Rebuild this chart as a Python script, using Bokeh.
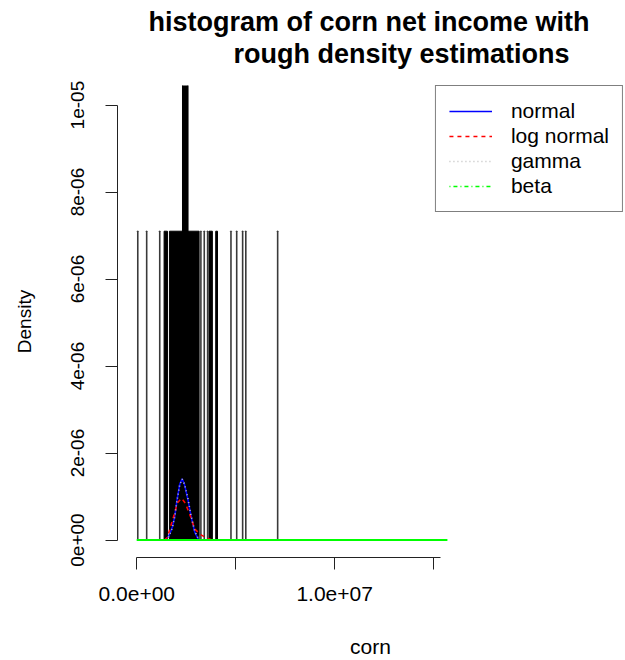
from bokeh.plotting import figure
from bokeh.models import (ColumnDataSource, FixedTicker, Legend, LegendItem, Title, Range1d)
from bokeh.embed import file_html
from bokeh.resources import INLINE

# ---------------- data ----------------
title_lines = ["histogram of corn net income with", "rough density estimations"]
x_label = "corn"
y_label = "Density"

x_ticks = [0.0, 5e6, 1e7, 1.5e7]
x_tick_labels = ["0.0e+00", "", "1.0e+07", ""]
y_ticks = [0.0, 2e-06, 4e-06, 6e-06, 8e-06, 1e-05]
y_tick_labels = ["0e+00", "2e-06", "4e-06", "6e-06", "8e-06", "1e-05"]

# isolated narrow histogram bins (left / right edge, density)
spike_left = [0.04e6, 0.49e6, 1.15e6, 3.23e6, 3.40e6, 3.57e6, 4.75e6, 5.04e6, 5.34e6, 5.50e6, 7.11e6]
spike_right = [0.06e6, 0.51e6, 1.17e6, 3.25e6, 3.42e6, 3.59e6, 4.77e6, 5.06e6, 5.36e6, 5.52e6, 7.13e6]
spike_density = [7.1e-06] * 11

# dense clusters of bins (appear solid black)
block_left = [1.38e6, 1.65e6, 3.65e6, 3.99e6, 2.31e6]
block_right = [1.55e6, 3.15e6, 3.82e6, 4.08e6, 2.59e6]
block_density = [7.1e-06, 7.1e-06, 7.1e-06, 7.1e-06, 1.07e-05]

# density estimations
normal_x = [1.45e6, 1.62e6, 1.80e6, 1.92e6, 2.04e6, 2.17e6, 2.29e6, 2.41e6, 2.58e6, 2.74e6, 2.93e6, 3.13e6]
normal_y = [0.0, 0.09e-6, 0.30e-6, 0.55e-6, 0.94e-6, 1.28e-6, 1.41e-6, 1.28e-6, 0.94e-6, 0.55e-6, 0.18e-6, 0.0]

lognormal_x = [1.40e6, 1.55e6, 1.67e6, 1.87e6, 2.05e6, 2.26e6, 2.45e6, 2.71e6, 2.93e6, 3.21e6, 3.50e6, 3.80e6]
lognormal_y = [0.0, 0.06e-6, 0.25e-6, 0.55e-6, 0.85e-6, 0.96e-6, 0.85e-6, 0.55e-6, 0.25e-6, 0.13e-6, 0.05e-6, 0.0]

gamma_x = [1.45e6, 1.62e6, 1.80e6, 1.92e6, 2.04e6, 2.17e6, 2.29e6, 2.41e6, 2.58e6, 2.74e6, 2.93e6, 3.15e6]
gamma_y = [0.0, 0.08e-6, 0.28e-6, 0.54e-6, 0.93e-6, 1.27e-6, 1.40e-6, 1.29e-6, 0.96e-6, 0.57e-6, 0.20e-6, 0.0]

beta_x = [0.0, 1.57e7]
beta_y = [0.0, 0.0]

legend_labels = ["normal", "log normal", "gamma", "beta"]

# ---------------- figure ----------------
FONT = "Liberation Sans"

p = figure(width=625, height=660, output_backend="svg", toolbar_location=None,
           x_range=Range1d(-0.975e6, 24.6e6), y_range=Range1d(-0.402e-6, 10.45e-6),
           min_border_left=117, min_border_right=2, min_border_top=85, min_border_bottom=103,
           title=None)
p.background_fill_color = "white"
p.border_fill_color = "white"
p.outline_line_color = None
p.xgrid.visible = False
p.ygrid.visible = False

# histogram
spikes = ColumnDataSource(dict(left=spike_left, right=spike_right, top=spike_density,
                               bottom=[0.0] * len(spike_left)))
p.quad(left="left", right="right", top="top", bottom="bottom", source=spikes,
       fill_color="white", line_color="#3a3a3a", line_width=1.2)
blocks = ColumnDataSource(dict(left=block_left, right=block_right, top=block_density,
                               bottom=[0.0] * len(block_left)))
p.quad(left="left", right="right", top="top", bottom="bottom", source=blocks,
       fill_color="black", line_color="black", line_width=1)

# curves
r_norm = p.line(normal_x, normal_y, line_color="#0000ff", line_width=1.6)
r_lnorm = p.line(lognormal_x, lognormal_y, line_color="#ff0000", line_width=1.6, line_dash="4 4")
r_gamma = p.line(gamma_x, gamma_y, line_color="#bebebe", line_width=1.6, line_dash="1 3")
# dot-dash beta key (hidden underneath the solid-looking beta line)
r_beta_key = p.line(beta_x, beta_y, line_color="#00ff00", line_width=1.5, line_dash="1 3 4 3")
r_beta = p.line(beta_x, beta_y, line_color="#00ff00", line_width=2)

# axes
xa = p.xaxis[0]
xa.ticker = FixedTicker(ticks=x_ticks)
xa.major_label_overrides = dict(zip(x_ticks, x_tick_labels))
xa.bounds = (0, 1.537e7)
ya = p.yaxis[0]
ya.ticker = FixedTicker(ticks=y_ticks)
ya.major_label_overrides = dict(zip(y_ticks, y_tick_labels))
ya.bounds = (0, 1e-05)
ya.major_label_orientation = "vertical"

for ax in (xa, ya):
    ax.axis_line_color = "#222222"
    ax.major_tick_line_color = "#222222"
    ax.major_tick_out = 12
    ax.major_tick_in = 0
    ax.minor_tick_out = 0
    ax.minor_tick_in = 0
    ax.major_label_text_font = FONT
    ax.major_label_text_color = "black"
    ax.axis_label_text_font = FONT
    ax.axis_label_text_font_style = "normal"
    ax.axis_label_text_color = "black"

xa.axis_label = x_label
xa.major_label_text_font_size = "21px"
xa.axis_label_text_font_size = "21px"
xa.major_label_standoff = 17
xa.axis_label_standoff = 31

ya.axis_label = y_label
ya.major_label_text_font_size = "19px"
ya.axis_label_text_font_size = "19px"
ya.major_label_standoff = 21
ya.axis_label_standoff = 34

# titles (second line nearer the plot)
t2 = Title(text=title_lines[1], align="left", offset=116, text_font=FONT, standoff=34,
           text_font_size="27px", text_font_style="bold", text_color="black")
t1 = Title(text=title_lines[0], align="left", offset=31, text_font=FONT, standoff=-35,
           text_font_size="27px", text_font_style="bold", text_color="black")
p.add_layout(t2, "above")
p.add_layout(t1, "above")

# legend
legend = Legend(items=[LegendItem(label=legend_labels[0], renderers=[r_norm]),
                       LegendItem(label=legend_labels[1], renderers=[r_lnorm]),
                       LegendItem(label=legend_labels[2], renderers=[r_gamma]),
                       LegendItem(label=legend_labels[3], renderers=[r_beta_key])],
                location="top_right", margin=0, padding=13, spacing=1,
                glyph_width=43, glyph_height=20, label_height=20, label_standoff=19,
                label_text_font=FONT, label_text_font_size="21px", label_text_color="black",
                border_line_color="black", border_line_width=1,
                background_fill_color="white", background_fill_alpha=1.0)
p.add_layout(legend)

open("out.html", "w").write(file_html(p, INLINE))
